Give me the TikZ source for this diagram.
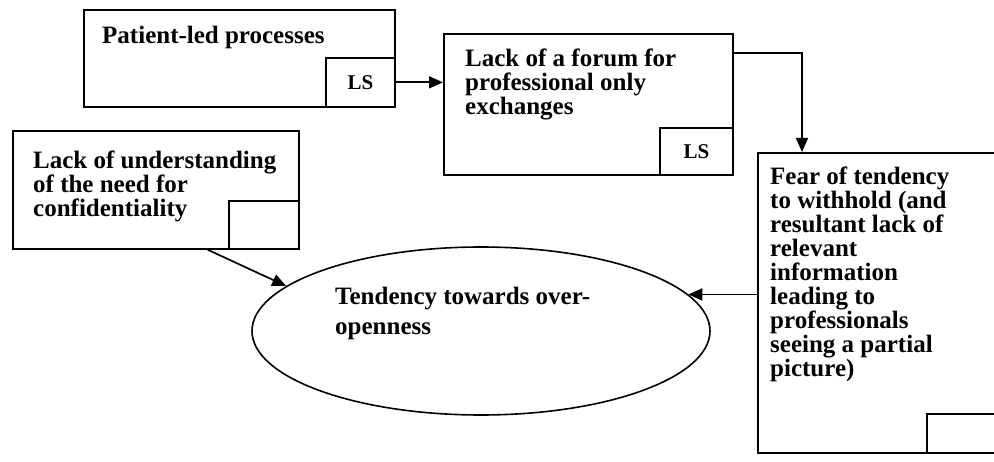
\documentclass[tikz,border=0pt]{standalone}
\usepackage{fontspec}
\setmainfont{Liberation Serif}
\usetikzlibrary{arrows.meta,shapes.geometric,calc}
\begin{document}
\begin{tikzpicture}[x=1pt,y=-1pt,
  box/.style={draw,line width=1.7pt,rectangle,inner sep=0pt,anchor=north west},
  lsbox/.style={box,font=\fontsize{21}{22}\selectfont\bfseries},
  lab/.style={inner sep=0pt,anchor=north west,align=left,font=\fontsize{25}{24}\selectfont\bfseries},
  arr/.style={line width=1.7pt,-{Triangle[length=14pt,width=12pt]}}]
\clip (0,0) rectangle (994,462);
\fill[white] (0,0) rectangle (994,462);
% boxes
\node[box,minimum width=311pt,minimum height=97pt] (A) at (83,9) {};
\node[lsbox,minimum width=69pt,minimum height=49pt] (lsA) at (325,57) {LS};
\node[lab] (tA) at (102,26) {Patient-led processes};

\node[box,minimum width=289pt,minimum height=141pt] (B) at (443,33) {};
\node[lsbox,minimum width=73pt,minimum height=47pt] (lsB) at (659,127) {LS};
\node[lab] (tB) at (465,49) {Lack of a forum for\\professional only\\exchanges};

\node[box,minimum width=286pt,minimum height=118pt] (C) at (12,130) {};
\node[box,minimum width=70pt,minimum height=48pt] (sC) at (228,200) {};
\node[lab] (tC) at (33,151) {Lack of understanding\\of the need for\\confidentiality};

\node[box,minimum width=250pt,minimum height=300pt] (D) at (757,152) {};
\node[box,minimum width=80pt,minimum height=39pt] (sD) at (926,413) {};
\node[lab] (tD) at (770,167) {Fear of tendency\\to withhold (and\\resultant lack of\\relevant\\information\\leading to\\professionals\\seeing a partial\\picture)};

\node[draw,ellipse,line width=1.6pt,minimum width=458pt,minimum height=168pt,inner sep=0pt] (E) at (481,331) {};
\node[inner sep=0pt,anchor=north west,align=left,font=\fontsize{25}{30}\selectfont\bfseries] (tE) at (335,287) {Tendency towards over-\\openness};

% connectors
\coordinate (bturn) at (802,53);
\draw[arr] (lsA.east) -- (lsA.east -| B.west);
\draw[arr] (B.east |- bturn) -| (D.north -| bturn);
\draw[arr] (E.10 -| D.west) -- (E.10);
\draw[arr] ($(C.south west)!0.68!(C.south east)$) -- (E.167);
\end{tikzpicture}
\end{document}
